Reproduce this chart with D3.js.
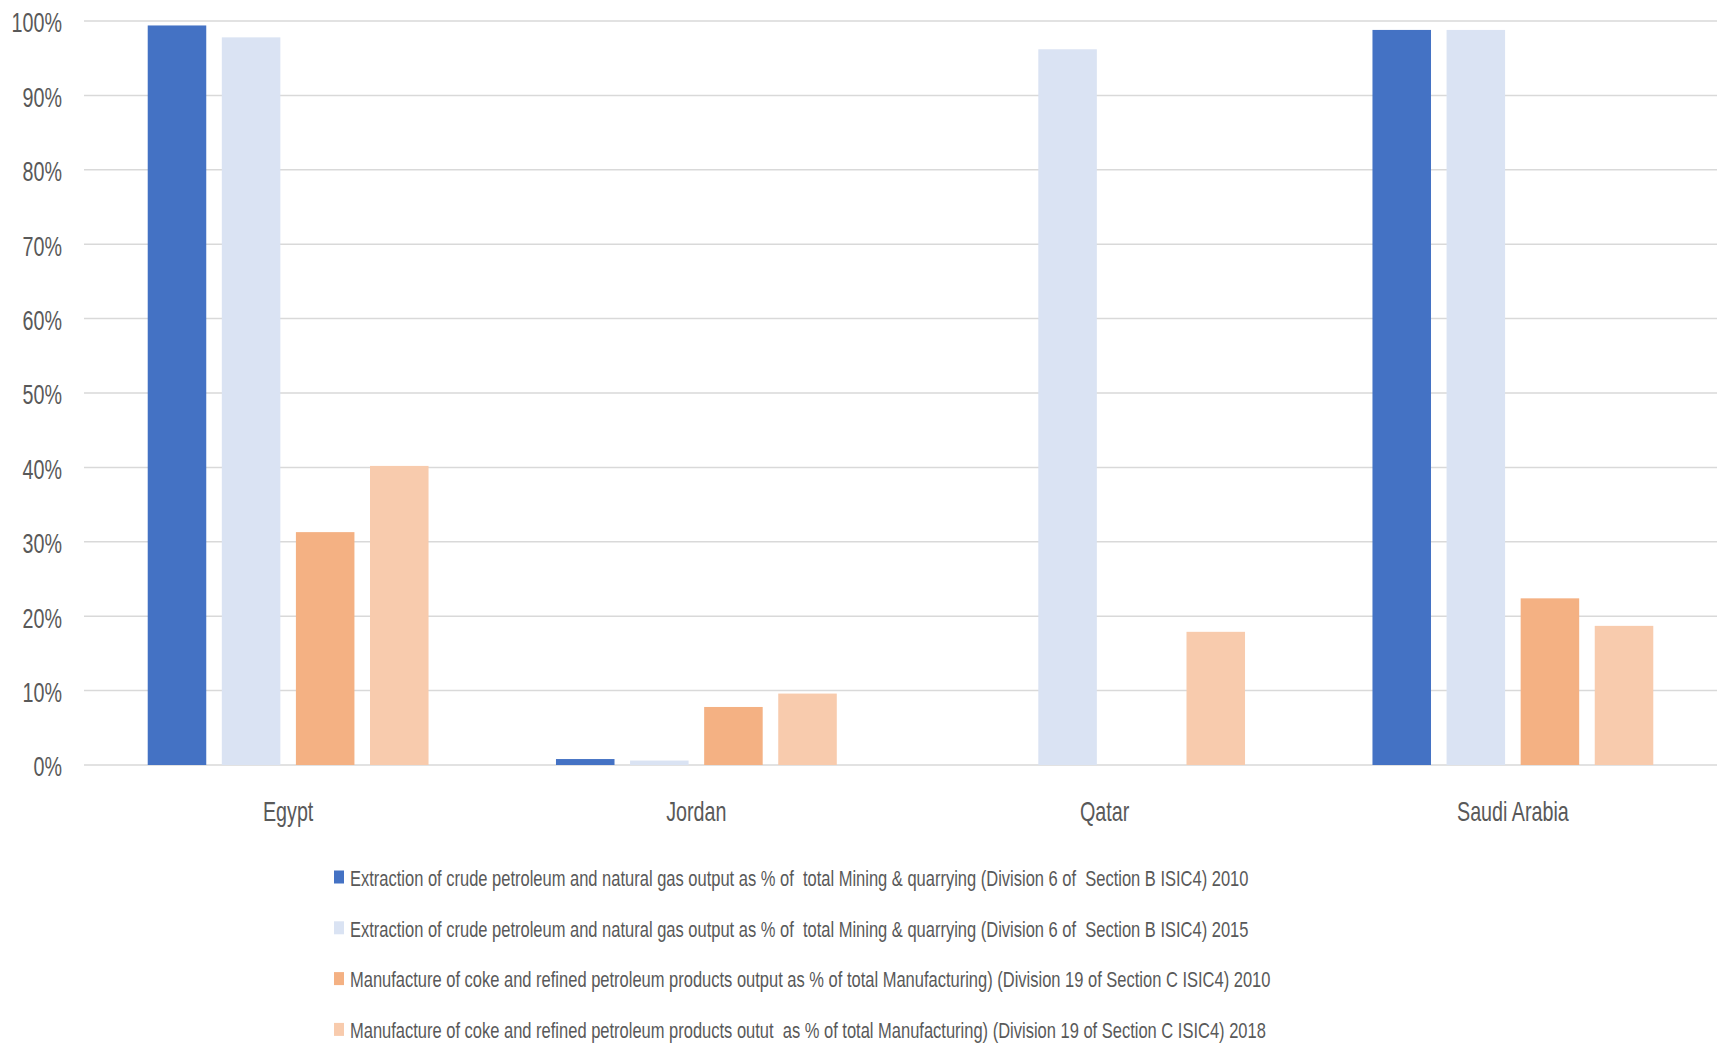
<!DOCTYPE html>
<html>
<head>
<meta charset="utf-8">
<script src="https://cdn.jsdelivr.net/npm/d3@7"></script>
<style>
  html, body { margin: 0; padding: 0; background: #fff; }
  text { font-family: "Liberation Sans", Arial, sans-serif; fill: #595959; }
</style>
</head>
<body>
<svg id="chart" width="1719" height="1044"></svg>
<script>
// data (share of total, %)
const countries = ["Egypt", "Jordan", "Qatar", "Saudi Arabia"];
const seriesNames = [
  "Extraction of crude petroleum and natural gas output as % of  total Mining & quarrying (Division 6 of  Section B ISIC4) 2010",
  "Extraction of crude petroleum and natural gas output as % of  total Mining & quarrying (Division 6 of  Section B ISIC4) 2015",
  "Manufacture of coke and refined petroleum products output as % of total Manufacturing) (Division 19 of Section C ISIC4) 2010",
  "Manufacture of coke and refined petroleum products outut  as % of total Manufacturing) (Division 19 of Section C ISIC4) 2018"
];
const seriesColors = ["#4472C4", "#DAE3F3", "#F4B183", "#F8CBAD"];
const extraction2010 = [99.4, 0.8, 0, 98.8];
const extraction2015 = [97.8, 0.6, 96.2, 98.8];
const cokeRefined2010 = [31.3, 7.8, 0, 22.4];
const cokeRefined2018 = [40.2, 9.6, 17.9, 18.7];
const yTicks = [0, 10, 20, 30, 40, 50, 60, 70, 80, 90, 100];

const seriesValues = [extraction2010, extraction2015, cokeRefined2010, cokeRefined2018];

const svg = d3.select("#chart");
const plotLeft = 84, plotRight = 1717, plotTop = 21, plotBottom = 765;

const x0 = d3.scaleBand().domain(countries).range([plotLeft, plotRight]).padding(0);
const x1 = d3.scaleBand().domain(d3.range(seriesValues.length))
  .range([0, x0.bandwidth()]).paddingInner(0.21).paddingOuter(0.86);
const y = d3.scaleLinear().domain([0, 100]).range([plotBottom, plotTop]);

// the original uses a condensed face; squeeze a regular one horizontally
const squeeze = (x, yy, sx) => `translate(${x},${yy}) scale(${sx},1)`;

// gridlines
svg.append("g").selectAll("line").data(yTicks).join("line")
  .attr("x1", plotLeft).attr("x2", plotRight)
  .attr("y1", d => y(d)).attr("y2", d => y(d))
  .attr("stroke", "#D9D9D9").attr("stroke-width", 1.5);

// y tick labels
svg.append("g").selectAll("text").data(yTicks).join("text")
  .attr("transform", d => squeeze(62, y(d) + 2, 0.73))
  .attr("dy", "0.35em")
  .attr("text-anchor", "end").style("font-size", "27px")
  .text(d => d + "%");

// bars
const groups = svg.append("g").selectAll("g").data(countries).join("g")
  .attr("transform", d => `translate(${x0(d)},0)`);
groups.selectAll("rect")
  .data((c, ci) => seriesValues.map((vals, si) => ({ si, v: vals[ci] })).filter(d => d.v > 0))
  .join("rect")
  .attr("x", d => x1(d.si)).attr("width", x1.bandwidth())
  .attr("y", d => y(d.v)).attr("height", d => y(0) - y(d.v))
  .attr("fill", d => seriesColors[d.si]);

// category labels
svg.append("g").selectAll("text").data(countries).join("text")
  .attr("transform", d => squeeze(x0(d) + x0.bandwidth() / 2, 821, 0.73))
  .attr("text-anchor", "middle").style("font-size", "27px")
  .text(d => d);

// legend
const legend = svg.append("g").selectAll("g").data(seriesNames).join("g")
  .attr("transform", (d, i) => `translate(334,${877 + i * 50.8})`);
legend.append("rect").attr("x", 0).attr("y", -6.5).attr("width", 10).attr("height", 13)
  .attr("fill", (d, i) => seriesColors[i]);
legend.append("text")
  .attr("transform", squeeze(16, 1, 0.75))
  .attr("dy", "0.35em")
  .style("font-size", "22px").style("white-space", "pre")
  .text(d => d);
</script>
</body>
</html>
